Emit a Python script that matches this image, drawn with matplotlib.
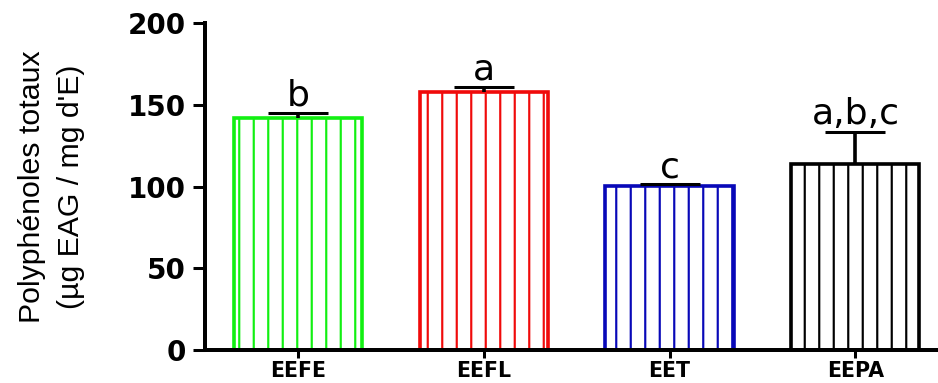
import matplotlib
matplotlib.use('Agg')
import matplotlib.pyplot as plt
import numpy as np

# Polyphenol content per extract, mean and upper error
extracts = ['EEFE', 'EEFL', 'EET', 'EEPA']
means = [142, 158, 100.5, 114]
errors = [3, 3, 0.8, 19.5]
groups = ['b', 'a', 'c', 'a,b,c']
colors = ['#12f012', '#f00a0a', '#0808b8', '#000000']
y_ticks = [0, 50, 100, 150, 200]

DPI = 87
plt.rcParams['hatch.linewidth'] = 1.8

fig = plt.figure(figsize=(939 / DPI, 383 / DPI), dpi=DPI)
ax = fig.add_axes([205 / 939, 1 - 350 / 383, 734 / 939, (350 - 23) / 383])

x = np.arange(len(extracts))
ax.bar(x, means, width=0.69, color='white', edgecolor=colors,
       linewidth=3.0, hatch='|')

# upper error bars only
eb = ax.errorbar(x, means, yerr=[np.zeros(len(errors)), errors], fmt='none',
                 ecolor='black', elinewidth=3, capsize=25, capthick=2.5)
eb[1][0].set_visible(False)

for xi, m, e, g in zip(x, means, errors, groups):
    ax.annotate(g, (xi, m + e), xytext=(0, 6), textcoords='offset points',
                ha='center', va='baseline', fontsize=30, family='DejaVu Sans')

ax.set_xlim(-0.5, 3.45)
ax.set_ylim(0, 200)
ax.set_yticks(y_ticks)
ax.set_xticks(x)
ax.set_xticklabels(extracts)

for side in ['top', 'right']:
    ax.spines[side].set_visible(False)
for side in ['left', 'bottom']:
    ax.spines[side].set_linewidth(3.3)

ax.tick_params(axis='y', direction='out', length=10, width=2.5, pad=6,
               labelsize=23)
ax.tick_params(axis='x', direction='out', length=6.5, width=2.5, pad=3,
               labelsize=17)
for lbl in ax.get_yticklabels() + ax.get_xticklabels():
    lbl.set_fontweight('bold')
    lbl.set_family('DejaVu Sans')

fig.text(52 / 939, 1 - 187 / 383, "Polyphénoles totaux\n(µg EAG / mg d'E)",
         rotation=90, ha='center', va='center', multialignment='center',
         fontsize=25, linespacing=1.5, family='Liberation Sans')

fig.savefig('out.png', dpi=DPI)
